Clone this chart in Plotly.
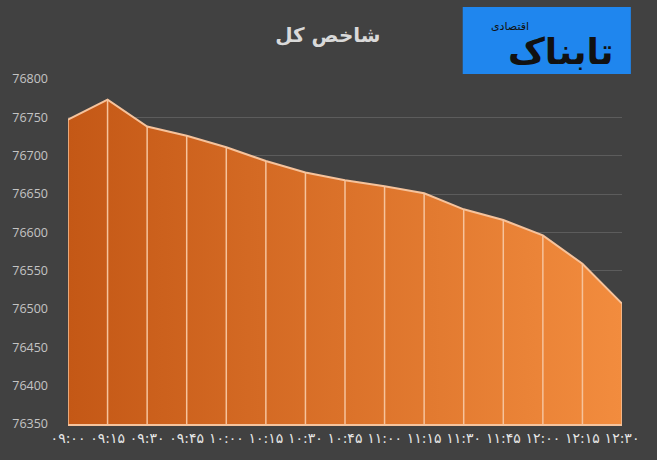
import plotly.graph_objects as go

# index values
times = ["۰۹:۰۰", "۰۹:۱۵", "۰۹:۳۰", "۰۹:۴۵", "۱۰:۰۰", "۱۰:۱۵", "۱۰:۳۰", "۱۰:۴۵",
         "۱۱:۰۰", "۱۱:۱۵", "۱۱:۳۰", "۱۱:۴۵", "۱۲:۰۰", "۱۲:۱۵", "۱۲:۳۰"]
index_vals = [76747, 76773, 76738, 76726, 76711, 76693, 76678, 76668,
              76660, 76651, 76630, 76616, 76596, 76559, 76507]
y_ticks = [76350, 76400, 76450, 76500, 76550, 76600, 76650, 76700, 76750, 76800]
title_text = "شاخص کل"
logo_main = "تابناک"
logo_sub = "اقتصادی"

Y_MIN, Y_MAX = 76350, 76800
BG = "#414141"
PEACH = "#F6C39C"
xs = list(range(len(times)))

fig = go.Figure()
fig.add_scatter(
    x=xs, y=index_vals, mode="lines", fill="tozeroy",
    fillgradient=dict(type="horizontal",
                      colorscale=[[0, "#C45816"], [1, "#F28C3E"]]),
    line=dict(color=PEACH, width=2),
    # light drop lines from each point down to the baseline
    error_y=dict(type="data", symmetric=False,
                 array=[0] * len(index_vals),
                 arrayminus=[v - Y_MIN for v in index_vals],
                 color=PEACH, thickness=1.5, width=0),
    showlegend=False, hoverinfo="x+y",
)

fig.update_xaxes(range=[0, len(times) - 1], tickmode="array", tickvals=xs,
                 ticktext=times, tickangle=0, showgrid=False, zeroline=False,
                 showline=True, linecolor=PEACH, linewidth=1.5,
                 tickfont=dict(family="DejaVu Sans", size=14, color="#E6E6E6"))
fig.update_yaxes(range=[Y_MIN, Y_MAX], tickmode="array", tickvals=y_ticks,
                 ticktext=[str(t) for t in y_ticks], showgrid=True,
                 gridcolor="#5C5C5C", gridwidth=1, zeroline=False,
                 ticklabelstandoff=19,
                 tickfont=dict(family="Open Sans", size=12.5, color="#C4C4C4"))

# logo box (blue) with the site name
fig.add_shape(type="rect", xref="paper", yref="paper",
              x0=0.7125, x1=1.016, y0=1.0145, y1=1.2087,
              fillcolor="#1F86EE", line=dict(width=0), layer="above")
fig.add_annotation(text=f"<b>{logo_main}</b>", xref="paper", yref="paper",
                   x=0.99, y=1.145, showarrow=False,
                   font=dict(family="DejaVu Sans", size=36, color="#111111"))
fig.add_annotation(text=logo_sub, xref="paper", yref="paper",
                   x=0.835, y=1.178, showarrow=False,
                   font=dict(family="DejaVu Sans", size=11, color="#111111"))

fig.update_layout(
    width=657, height=460,
    paper_bgcolor=BG, plot_bgcolor=BG,
    margin=dict(l=62, r=35, t=79, b=36),
    title=dict(text=f"<b>{title_text}</b>", x=0.499, xanchor="center",
               y=0.924, yanchor="middle",
               font=dict(family="DejaVu Sans", size=20, color="#D9D9D9")),
)

fig.write_html("out.html", config={"displayModeBar": False},
               post_script="document.body.style.margin='0';document.body.style.background='#414141';")
